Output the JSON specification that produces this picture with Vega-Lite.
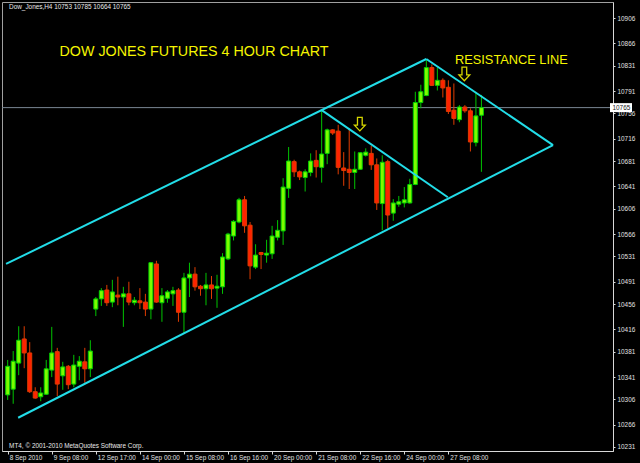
{
  "$schema": "https://vega.github.io/schema/vega-lite/v6.json",
  "width": 611,
  "height": 449,
  "autosize": {"type": "none"},
  "padding": {"left": 2, "top": 2, "right": 27, "bottom": 12},
  "background": "#000000",
  "config": {
    "view": {"stroke": "#a0a0a0", "strokeWidth": 1},
    "font": "Liberation Sans",
    "axis": {"labelOverlap": false, "labelSeparation": 0, "labelBound": false, "labelFlush": false, "grid": false}
  },
  "datasets": {
    "bid": [{"p": 10765}],
    "candles": [
      {"i":0,"o":10313,"h":10368,"l":10305,"c":10358},
      {"i":1,"o":10322,"h":10382,"l":10299,"c":10366},
      {"i":2,"o":10363,"h":10421,"l":10344,"c":10399},
      {"i":3,"o":10401,"h":10421,"l":10355,"c":10379},
      {"i":4,"o":10379,"h":10396,"l":10316,"c":10318},
      {"i":5,"o":10318,"h":10325,"l":10307,"c":10308},
      {"i":6,"o":10310,"h":10325,"l":10303,"c":10316},
      {"i":7,"o":10314,"h":10368,"l":10313,"c":10354},
      {"i":8,"o":10352,"h":10420,"l":10341,"c":10379},
      {"i":9,"o":10381,"h":10387,"l":10311,"c":10330},
      {"i":10,"o":10343,"h":10365,"l":10321,"c":10357},
      {"i":11,"o":10358,"h":10360,"l":10322,"c":10329},
      {"i":12,"o":10330,"h":10376,"l":10325,"c":10360},
      {"i":13,"o":10358,"h":10374,"l":10336,"c":10366},
      {"i":14,"o":10365,"h":10387,"l":10332,"c":10354},
      {"i":15,"o":10354,"h":10399,"l":10341,"c":10382},
      {"i":16,"o":10448,"h":10467,"l":10437,"c":10464},
      {"i":17,"o":10464,"h":10481,"l":10453,"c":10477},
      {"i":18,"o":10478,"h":10486,"l":10453,"c":10458},
      {"i":19,"o":10459,"h":10494,"l":10451,"c":10475},
      {"i":20,"o":10470,"h":10499,"l":10454,"c":10467},
      {"i":21,"o":10467,"h":10483,"l":10420,"c":10472},
      {"i":22,"o":10472,"h":10491,"l":10454,"c":10459},
      {"i":23,"o":10458,"h":10467,"l":10454,"c":10462},
      {"i":24,"o":10461,"h":10481,"l":10448,"c":10458},
      {"i":25,"o":10459,"h":10472,"l":10437,"c":10448},
      {"i":26,"o":10448,"h":10522,"l":10432,"c":10521},
      {"i":27,"o":10519,"h":10524,"l":10458,"c":10459},
      {"i":28,"o":10458,"h":10481,"l":10428,"c":10469},
      {"i":29,"o":10465,"h":10478,"l":10458,"c":10475},
      {"i":30,"o":10472,"h":10483,"l":10453,"c":10477},
      {"i":31,"o":10478,"h":10481,"l":10428,"c":10443},
      {"i":32,"o":10443,"h":10505,"l":10410,"c":10497},
      {"i":33,"o":10497,"h":10521,"l":10467,"c":10503},
      {"i":34,"o":10503,"h":10514,"l":10477,"c":10483},
      {"i":35,"o":10484,"h":10486,"l":10469,"c":10480},
      {"i":36,"o":10480,"h":10505,"l":10454,"c":10486},
      {"i":37,"o":10486,"h":10500,"l":10464,"c":10480},
      {"i":38,"o":10481,"h":10502,"l":10450,"c":10484},
      {"i":39,"o":10483,"h":10536,"l":10472,"c":10530},
      {"i":40,"o":10527,"h":10568,"l":10525,"c":10566},
      {"i":41,"o":10563,"h":10588,"l":10556,"c":10586},
      {"i":42,"o":10585,"h":10623,"l":10583,"c":10620},
      {"i":43,"o":10620,"h":10626,"l":10568,"c":10579},
      {"i":44,"o":10580,"h":10585,"l":10495,"c":10516},
      {"i":45,"o":10514,"h":10550,"l":10511,"c":10533},
      {"i":46,"o":10537,"h":10538,"l":10511,"c":10534},
      {"i":47,"o":10533,"h":10557,"l":10521,"c":10536},
      {"i":48,"o":10535,"h":10579,"l":10527,"c":10563},
      {"i":49,"o":10561,"h":10588,"l":10556,"c":10572},
      {"i":50,"o":10571,"h":10654,"l":10549,"c":10640},
      {"i":51,"o":10638,"h":10703,"l":10623,"c":10681},
      {"i":52,"o":10680,"h":10683,"l":10656,"c":10664},
      {"i":53,"o":10664,"h":10666,"l":10651,"c":10656},
      {"i":54,"o":10655,"h":10668,"l":10633,"c":10664},
      {"i":55,"o":10663,"h":10693,"l":10657,"c":10681},
      {"i":56,"o":10682,"h":10698,"l":10655,"c":10672},
      {"i":57,"o":10671,"h":10761,"l":10647,"c":10692},
      {"i":58,"o":10693,"h":10732,"l":10676,"c":10730},
      {"i":59,"o":10730,"h":10731,"l":10722,"c":10725},
      {"i":60,"o":10728,"h":10738,"l":10660,"c":10671},
      {"i":61,"o":10670,"h":10695,"l":10642,"c":10666},
      {"i":62,"o":10668,"h":10732,"l":10637,"c":10663},
      {"i":63,"o":10663,"h":10696,"l":10637,"c":10668},
      {"i":64,"o":10668,"h":10695,"l":10667,"c":10694},
      {"i":65,"o":10690,"h":10701,"l":10688,"c":10695},
      {"i":66,"o":10693,"h":10705,"l":10667,"c":10675},
      {"i":67,"o":10675,"h":10685,"l":10604,"c":10615},
      {"i":68,"o":10614,"h":10690,"l":10572,"c":10679},
      {"i":69,"o":10680,"h":10683,"l":10575,"c":10596},
      {"i":70,"o":10599,"h":10621,"l":10587,"c":10615},
      {"i":71,"o":10613,"h":10626,"l":10609,"c":10617},
      {"i":72,"o":10615,"h":10640,"l":10608,"c":10620},
      {"i":73,"o":10615,"h":10653,"l":10614,"c":10644},
      {"i":74,"o":10644,"h":10790,"l":10643,"c":10773},
      {"i":75,"o":10773,"h":10801,"l":10764,"c":10790},
      {"i":76,"o":10784,"h":10841,"l":10783,"c":10828},
      {"i":77,"o":10828,"h":10833,"l":10799,"c":10800},
      {"i":78,"o":10800,"h":10828,"l":10792,"c":10808},
      {"i":79,"o":10808,"h":10811,"l":10781,"c":10796},
      {"i":80,"o":10797,"h":10808,"l":10755,"c":10759},
      {"i":81,"o":10761,"h":10803,"l":10738,"c":10748},
      {"i":82,"o":10746,"h":10769,"l":10742,"c":10766},
      {"i":83,"o":10766,"h":10769,"l":10757,"c":10760},
      {"i":84,"o":10760,"h":10764,"l":10696,"c":10711},
      {"i":85,"o":10710,"h":10789,"l":10704,"c":10752},
      {"i":86,"o":10753,"h":10785,"l":10664,"c":10765}
    ],
    "lines": [
      {"id":"upper","i":-0.3,"p":10519},
      {"id":"upper","i":76,"p":10841.5},
      {"id":"lower","i":1.9,"p":10277},
      {"id":"lower","i":99,"p":10706},
      {"id":"resistance","i":76,"p":10841.5},
      {"id":"resistance","i":99,"p":10706},
      {"id":"inner","i":57,"p":10761},
      {"id":"inner","i":79.9,"p":10624}
    ],
    "title": [{"i":9.4,"p":10846,"label":"DOW JONES FUTURES 4 HOUR CHART"}],
    "resist": [{"i":81.2,"p":10834,"label":"RESISTANCE LINE"}],
    "info": [
      {"i":0.25,"p":10919.5,"label":"Dow_Jones,H4  10753 10785 10664 10765"},
      {"i":0.25,"p":10230,"label":"MT4, © 2001-2010 MetaQuotes Software Corp."}
    ],
    "arrows": [
      {"i":63.93,"p":10739},
      {"i":82.9,"p":10818}
    ]
  },
  "layer": [
    {
      "data": {"name": "bid"},
      "mark": {"type": "rule", "color": "#7a8694", "strokeWidth": 1},
      "encoding": {
        "y": {"field": "p", "type": "quantitative", "title": null,
          "scale": {"domain": [10224.7, 10931.2], "nice": false, "zero": false},
          "axis": {"orient": "right", "values": [10231,10266,10306,10341,10381,10416,10456,10491,10531,10566,10606,10641,10681,10716,10756,10791,10831,10866,10906],
            "tickCount": 100,
            "format": "d", "tickSize": 2, "labelPadding": 2, "labelColor": "#e0e0e0", "labelFontSize": 6.4, "labelFont": "Liberation Sans",
            "grid": false, "domainColor": "#d8d8d8", "tickColor": "#d8d8d8", "labelOverlap": false, "labelFlush": false, "labelBaseline": "middle", "labelSeparation": 0, "labelBound": false}
        }
      }
    },
    {
      "data": {"name": "candles"},
      "mark": {"type": "rule", "strokeWidth": 1, "clip": true},
      "encoding": {
        "x": {"field": "i", "type": "quantitative", "title": null,
          "scale": {"domain": [-0.125, 108.98], "nice": false, "zero": false},
          "axis": {"orient": "bottom", "values": [0,8,16,24,32,40,48,56,64,72,80], "tickCount": 100,
            "labelExpr": "['8 Sep 2010','9 Sep 08:00','12 Sep 17:00','14 Sep 00:00','15 Sep 08:00','16 Sep 16:00','20 Sep 00:00','21 Sep 08:00','22 Sep 16:00','24 Sep 00:00','27 Sep 08:00'][round(datum.value/8)]",
            "labelAlign": "left", "labelBaseline": "top", "labelOffset": 1.5, "labelPadding": 0, "tickSize": 3,
            "tickColor": "#d8d8d8", "domainColor": "#d8d8d8", "labelColor": "#e0e0e0", "labelFontSize": 6.4, "labelFont": "Liberation Sans",
            "grid": false, "labelOverlap": false, "labelFlush": false}
        },
        "y": {"field": "l", "type": "quantitative", "title": null},
        "y2": {"field": "h"},
        "color": {"condition": {"test": "datum.c >= datum.o", "value": "#00c400"}, "value": "#e03c00"}
      }
    },
    {
      "data": {"name": "candles"},
      "mark": {"type": "bar", "size": 4, "strokeWidth": 1, "clip": true},
      "encoding": {
        "x": {"field": "i", "type": "quantitative", "title": null},
        "y": {"field": "o", "type": "quantitative", "title": null},
        "y2": {"field": "c"},
        "fill": {"condition": {"test": "datum.c >= datum.o", "value": "#7cfc00"}, "value": "#ff2200"},
        "stroke": {"condition": {"test": "datum.c >= datum.o", "value": "#00d000"}, "value": "#e03c00"}
      }
    },
    {
      "data": {"name": "lines"},
      "mark": {"type": "line", "color": "#22dde8", "strokeWidth": 2, "clip": true},
      "encoding": {
        "x": {"field": "i", "type": "quantitative", "title": null},
        "y": {"field": "p", "type": "quantitative", "title": null},
        "detail": {"field": "id"}
      }
    },
    {
      "data": {"name": "bid"},
      "mark": {"type": "rect", "fill": "#ffffff", "yOffset": -4.5, "y2Offset": 4.5, "xOffset": 2, "x2Offset": 24},
      "encoding": {
        "x": {"datum": 108.98},
        "x2": {"datum": 108.98},
        "y": {"field": "p", "type": "quantitative", "title": null},
        "y2": {"field": "p"}
      }
    },
    {
      "data": {"name": "bid"},
      "mark": {"type": "text", "align": "left", "baseline": "middle", "dx": 4.5, "fontSize": 6.4, "font": "Liberation Sans", "color": "#202020"},
      "encoding": {
        "x": {"datum": 108.98},
        "y": {"field": "p", "type": "quantitative", "title": null},
        "text": {"field": "p", "type": "quantitative", "format": "d"}
      }
    },
    {
      "data": {"name": "title"},
      "mark": {"type": "text", "align": "left", "baseline": "alphabetic", "fontSize": 14.3, "font": "Liberation Sans", "color": "#f5f500"},
      "encoding": {
        "x": {"field": "i", "type": "quantitative", "title": null},
        "y": {"field": "p", "type": "quantitative", "title": null},
        "text": {"field": "label"}
      }
    },
    {
      "data": {"name": "resist"},
      "mark": {"type": "text", "align": "left", "baseline": "alphabetic", "fontSize": 12.8, "font": "Liberation Sans", "color": "#f5f500"},
      "encoding": {
        "x": {"field": "i", "type": "quantitative", "title": null},
        "y": {"field": "p", "type": "quantitative", "title": null},
        "text": {"field": "label"}
      }
    },
    {
      "data": {"name": "info"},
      "mark": {"type": "text", "align": "left", "baseline": "alphabetic", "fontSize": 6.4, "font": "Liberation Sans", "color": "#e8e8e8"},
      "encoding": {
        "x": {"field": "i", "type": "quantitative", "title": null},
        "y": {"field": "p", "type": "quantitative", "title": null},
        "text": {"field": "label"}
      }
    },
    {
      "data": {"name": "arrows"},
      "mark": {"type": "point", "shape": "M-0.35,-1 L0.35,-1 L0.35,0.15 L0.8,0.15 L0,1 L-0.8,0.15 L-0.35,0.15 Z", "size": 182, "filled": false, "stroke": "#d6d600", "strokeWidth": 1.3, "opacity": 1},
      "encoding": {
        "x": {"field": "i", "type": "quantitative", "title": null},
        "y": {"field": "p", "type": "quantitative", "title": null}
      }
    }
  ]
}
